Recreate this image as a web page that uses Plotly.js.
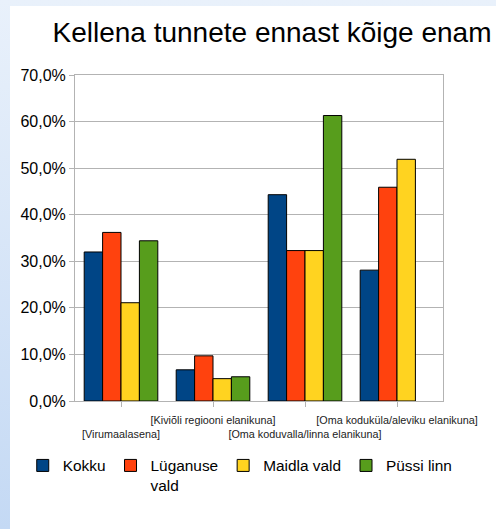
<!DOCTYPE html>
<html>
<head>
<meta charset="utf-8">
<script src="https://cdn.plot.ly/plotly-3.0.1.min.js"></script>
<style>
  html, body { margin: 0; padding: 0; width: 496px; height: 529px; overflow: hidden;
    background: linear-gradient(to bottom, #e9f1fb, #c4d9f4); }
  #chart { position: absolute; left: 10px; top: 6px; width: 486px; height: 523px; background: #fff; }
</style>
</head>
<body>
<div id="chart"></div>
<script>
// Categories (staggered labels: every other label is pushed to a second row)
const categories = ["Virumaalasena", "Kiviõli regiooni elanikuna", "Oma koduvalla/linna elanikuna", "Oma koduküla/aleviku elanikuna"];
const tickLabels = ["&nbsp;<br>[Virumaalasena]", "[Kiviõli regiooni elanikuna]", "&nbsp;<br>[Oma koduvalla/linna elanikuna]", "[Oma koduküla/aleviku elanikuna]"];

const seriesNames = ["Kokku", "Lüganuse<br>vald", "Maidla vald", "Püssi linn"];
const kokku    = [32.0, 6.7, 44.3, 28.1];
const luganuse = [36.2, 9.7, 32.3, 45.9];
const maidla   = [21.1, 4.8, 32.3, 51.9];
const pussi    = [34.4, 5.2, 61.3, null];

const yTicks = [0, 10, 20, 30, 40, 50, 60, 70];
const yTickText = ["0,0%", "10,0%", "20,0%", "30,0%", "40,0%", "50,0%", "60,0%", "70,0%"];

const colors = ["#004586", "#ff420e", "#ffd320", "#579d1c"];
const allSeries = [kokku, luganuse, maidla, pussi];

const traces = allSeries.map((vals, i) => ({
  type: "bar",
  name: seriesNames[i],
  x: categories,
  y: vals,
  marker: { color: colors[i], line: { color: "#000", width: 1 } },
  hoverinfo: "skip"
}));

const layout = {
  width: 486, height: 523,
  paper_bgcolor: "#ffffff", plot_bgcolor: "#ffffff",
  font: { family: "Liberation Sans, Arial, sans-serif", color: "#000" },
  margin: { l: 65, r: 53, t: 69, b: 128 },
  title: {
    text: "Kellena tunnete ennast kõige enam",
    font: { size: 28, color: "#000" },
    x: 262 / 486, xanchor: "center", xref: "container",
    y: 1 - 26 / 523, yanchor: "middle", yref: "container"
  },
  barmode: "group", bargap: 0.2, bargroupgap: 0,
  xaxis: {
    type: "category",
    tickvals: categories, ticktext: tickLabels, tickangle: 0,
    tickfont: { size: 10.8, color: "#222" },
    ticks: "outside", ticklen: 5, tickcolor: "#b3b3b3",
    ticklabelstandoff: 4,
    showline: true, linecolor: "#b3b3b3", linewidth: 1, mirror: true,
    showgrid: false, zeroline: false, fixedrange: true
  },
  yaxis: {
    range: [0, 70],
    tickvals: yTicks, ticktext: yTickText,
    tickfont: { size: 16, color: "#000" },
    ticks: "outside", ticklen: 5, tickcolor: "#b3b3b3",
    showline: true, linecolor: "#b3b3b3", linewidth: 1, mirror: true,
    showgrid: true, gridcolor: "#b3b3b3", gridwidth: 1,
    zeroline: false, fixedrange: true
  },
  legend: {
    orientation: "h",
    x: -0.142, xanchor: "left",
    y: -0.147, yanchor: "top",
    valign: "top",
    font: { size: 15.4, color: "#000" },
    traceorder: "normal",
    itemclick: false, itemdoubleclick: false
  },
  showlegend: true
};

Plotly.newPlot("chart", traces, layout, { displayModeBar: false, staticPlot: true });
</script>
</body>
</html>
